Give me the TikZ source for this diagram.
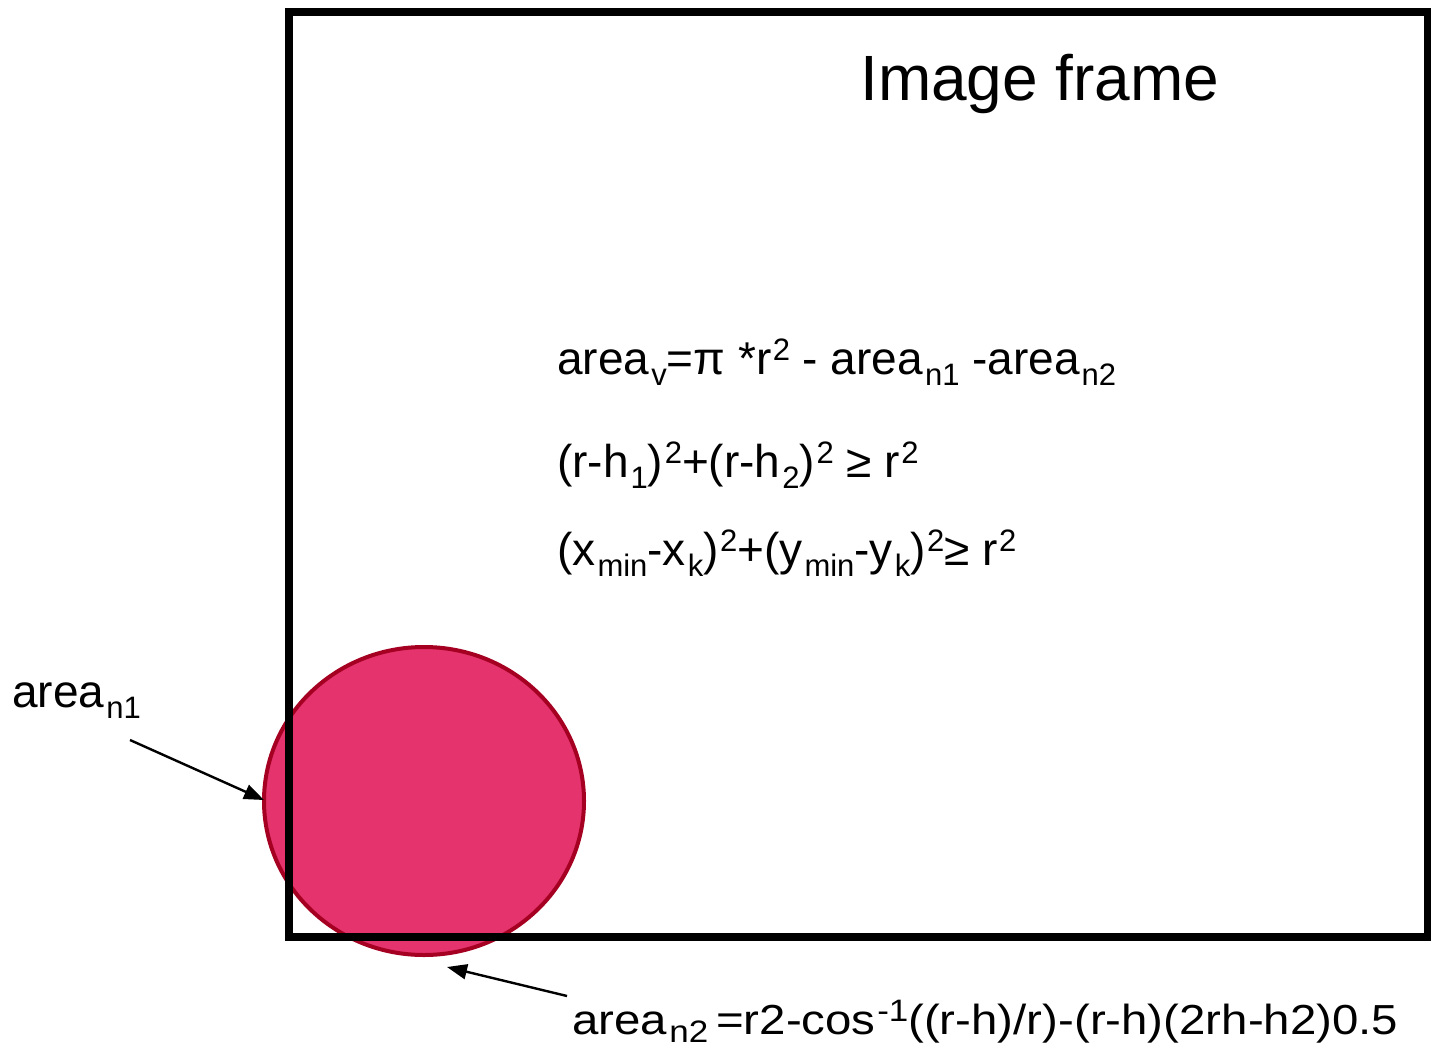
\documentclass[tikz,border=0pt]{standalone}
\usepackage{fontspec}
\setmainfont{Liberation Sans}
\usetikzlibrary{arrows.meta}
\definecolor{circfill}{RGB}{228,51,109}
\definecolor{circline}{RGB}{165,0,33}
\newcommand\lsub[1]{\kern2pt\raisebox{-0.25em}{\fontsize{31}{31}\selectfont #1}}
\newcommand\lsup[1]{\kern1.5pt\raisebox{0.3em}{\fontsize{31}{31}\selectfont #1}}
\begin{document}
\begin{tikzpicture}[x=1pt,y=-1pt,
  eq/.style={anchor=base west,inner sep=0pt,font=\fontsize{46}{50}\selectfont},
  arr/.style={line width=2.4pt,-{Triangle[length=20pt,width=15pt]}},
  framebox/.style={line width=8pt}]
\useasboundingbox (0,0) rectangle (1431,1051);
% circle
\coordinate (cc) at (424,801);
\draw[fill=circfill,draw=circline,line width=4pt] (cc) ellipse [x radius=160,y radius=154];
% frame
\draw[framebox] (289,12) rectangle (1428,937);
% title
\node[anchor=base west,inner sep=0pt,font=\fontsize{64}{70}\selectfont] (title) at (860,101) {Image frame};
% equations
\node[eq] (eq1) at (557,374) {area\lsub{v}=π *r\lsup{2} - area\lsub{n1} -area\lsub{n2}};
\node[eq] (eq2) at (557,477) {(r-h\lsub{1})\lsup{2}+(r-h\lsub{2})\lsup{2} ≥ r\lsup{2}};
\node[eq] (eq3) at (557,565) {(x\lsub{min}-x\lsub{k})\lsup{2}+(y\lsub{min}-y\lsub{k})\lsup{2}≥ r\lsup{2}};
% labels
\node[eq] (lab1) at (12,707) {area\lsub{n1}};
\node[anchor=base west,inner sep=0pt] (lab2) at (572,1034) {\resizebox{826pt}{\height}{\fontsize{42}{48}\selectfont area\kern2pt\raisebox{-0.2em}{\fontsize{31}{31}\selectfont n2}\,=r2-cos\lsup{-1}((r-h)/r)-(r-h)(2rh-h2)0.5}};
% arrows
\coordinate (a1s) at (130,740);
\coordinate (a1e) at (264,800);
\coordinate (a2s) at (567,996);
\coordinate (a2e) at (447,967);
\draw[arr] (a1s) -- (a1e);
\draw[arr] (a2s) -- (a2e);
\end{tikzpicture}
\end{document}
